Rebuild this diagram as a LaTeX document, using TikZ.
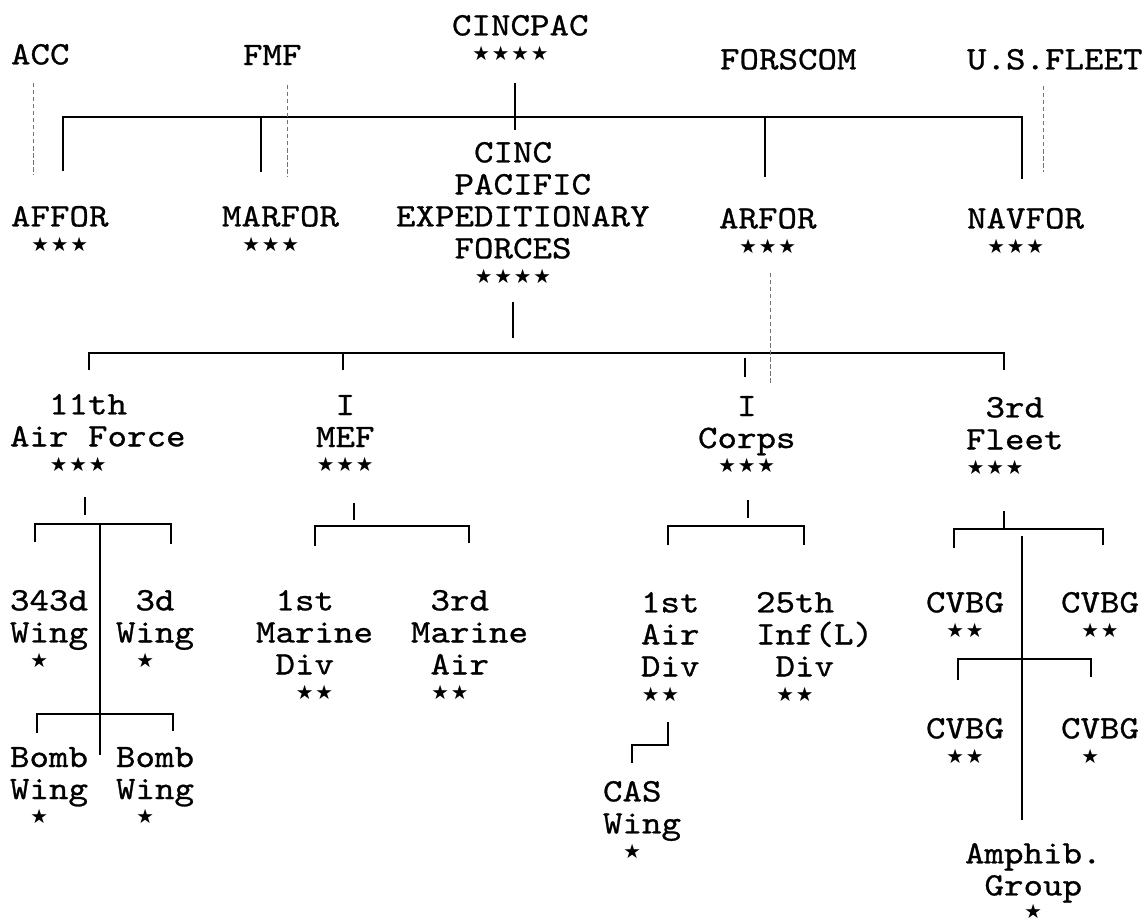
\documentclass[tikz,border=0pt]{standalone}
\usepackage{fontspec}
\newfontfamily\typefont[Extension=.otf, FakeStretch=1.134, FakeBold=0.8]{lmmono10-regular}
\newfontfamily\starfont{DejaVu Sans}
\usetikzlibrary{positioning,calc}

\newcommand{\lblfont}{\typefont\fontsize{23.3}{22.75}\selectfont}
\newcommand{\pad}[1]{\hspace*{#1\fontcharwd\font`x}}
\newcommand{\stars}[1]{\foreach \i in {1,...,#1}{\makebox[\fontcharwd\font`x]{\starfont\fontsize{14}{14}\selectfont ★}}}

\begin{document}
\begin{tikzpicture}[x=0.025cm, y=-0.025cm,
    lbl/.style={anchor=north west, inner sep=0pt, outer sep=0pt, align=left, font=\lblfont},
    cmd/.style={line width=2pt},
    liaison/.style={densely dashed, line width=0.6pt, black!55}]
    \useasboundingbox (0,0) rectangle (1145,922);

    % top level
    \node [lbl] (acc) at (11,44) {ACC};
    \node [lbl] (fmf) at (243,45) {FMF};
    \node [lbl] (cincpac) at (452,15) {CINCPAC\\[-5pt]\pad{1}\stars{4}};
    \node [lbl] (forscom) at (720,49) {FORSCOM};
    \node [lbl] (usfleet) at (967,49) {U.S.FLEET};

    % component commands
    \node [lbl] (affor) at (11,206) {AFFOR\\[-5pt]\pad{1}\stars{3}};
    \node [lbl] (marfor) at (222,206) {MARFOR\\[-5pt]\pad{1}\stars{3}};
    \node [lbl] (cincpef) at (396,142) {\pad{4}CINC\\\pad{3}PACIFIC\\EXPEDITIONARY\\\pad{3}FORCES\\[-5pt]\pad{4}\stars{4}};
    \node [lbl] (arfor) at (719,208) {ARFOR\\[-5pt]\pad{1}\stars{3}};
    \node [lbl] (navfor) at (967,208) {NAVFOR\\[-5pt]\pad{1}\stars{3}};

    % numbered forces
    \node [lbl] (af11) at (10,394) {\pad{2}11th\\Air Force\\[-5pt]\pad{2}\stars{3}};
    \node [lbl] (mef) at (316,395) {\pad{1}I\\MEF\\[-5pt]\stars{3}};
    \node [lbl] (corps) at (698,396) {\pad{2}I\\Corps\\[-5pt]\pad{1}\stars{3}};
    \node [lbl] (fleet) at (966,397) {\pad{1}3rd\\Fleet\\[-5pt]\stars{3}};

    % wings, divisions, groups
    \node [lbl] (wing343) at (10,590) {343d\\Wing\\[-5pt]\pad{1}\stars{1}};
    \node [lbl] (wing3) at (116,590) {\pad{1}3d\\Wing\\[-5pt]\pad{1}\stars{1}};
    \node [lbl] (bomb1) at (10,747) {Bomb\\Wing\\[-5pt]\pad{1}\stars{1}};
    \node [lbl] (bomb2) at (116,747) {Bomb\\Wing\\[-5pt]\pad{1}\stars{1}};
    \node [lbl] (mardiv) at (256,590) {\pad{1}1st\\Marine\\\pad{1}Div\\[-5pt]\pad{2}\stars{2}};
    \node [lbl] (marair) at (411,590) {\pad{1}3rd\\Marine\\\pad{1}Air\\[-5pt]\pad{1}\stars{2}};
    \node [lbl] (airdiv) at (641,592) {1st\\Air\\Div\\[-5pt]\stars{2}};
    \node [lbl] (infdiv) at (756,592) {25th\\Inf(L)\\\pad{1}Div\\[-5pt]\pad{1}\stars{2}};
    \node [lbl] (caswing) at (603,781) {CAS\\Wing\\[-5pt]\pad{1}\stars{1}};
    \node [lbl] (cvbg1) at (926,592) {CVBG\\[-5pt]\pad{1}\stars{2}};
    \node [lbl] (cvbg2) at (1061,592) {CVBG\\[-5pt]\pad{1}\stars{2}};
    \node [lbl] (cvbg3) at (926,718) {CVBG\\[-5pt]\pad{1}\stars{2}};
    \node [lbl] (cvbg4) at (1061,718) {CVBG\\[-5pt]\pad{1}\stars{1}};
    \node [lbl] (amphib) at (965,843) {Amphib.\\\pad{1}Group\\[-6pt]\pad{3}\stars{1}};

    % connector ends
    \coordinate (busA) at (0,117);
    \coordinate (busB) at (0,353);
    \coordinate (cincpacOut) at (515,83);
    \coordinate (cincpefIn) at (515,130);
    \coordinate (afforIn) at (63,171);
    \coordinate (marforIn) at (261,172);
    \coordinate (arforIn) at (765,177);
    \coordinate (navforIn) at (1022,179);
    \coordinate (accOut) at (33,83);
    \coordinate (afforEnd) at (33,175);
    \coordinate (fmfOut) at (287,85);
    \coordinate (marforEnd) at (287,177);
    \coordinate (usfleetOut) at (1043,86);
    \coordinate (navforEnd) at (1043,172);
    \coordinate (arforOut) at (770,273);
    \coordinate (corpsEnd) at (770,385);
    \coordinate (cincpefOut) at (513,302);
    \coordinate (af11In) at (89,370);
    \coordinate (mefIn) at (343,370);
    \coordinate (corpsIn) at (745,377);
    \coordinate (fleetIn) at (1004,370);

    % command lines
    \draw [cmd] (cincpacOut) -- (cincpefIn);
    \draw [cmd] (afforIn) -- (afforIn |- busA) -- (navforIn |- busA) -- (navforIn);
    \draw [cmd] (marforIn) -- (marforIn |- busA);
    \draw [cmd] (arforIn) -- (arforIn |- busA);
    \draw [cmd] (cincpefOut) -- ++(0,36);
    \draw [cmd] (af11In) -- (af11In |- busB) -- (fleetIn |- busB) -- (fleetIn);
    \draw [cmd] (mefIn) -- (mefIn |- busB);
    \draw [cmd] (corpsIn) -- ++(0,-19);

    % coordination lines
    \draw [liaison] (accOut) -- (afforEnd);
    \draw [liaison] (fmfOut) -- (marforEnd);
    \draw [liaison] (usfleetOut) -- (navforEnd);
    \draw [liaison] (arforOut) -- (corpsEnd);

    % 11th Air Force
    \coordinate (af11Out) at (85,497);
    \coordinate (wing343In) at (35,542);
    \coordinate (wing3In) at (171,544);
    \coordinate (af11Trunk) at (100,524);
    \coordinate (bombTrunk) at (100,755);
    \coordinate (bomb1In) at (37,733);
    \coordinate (bomb2In) at (173,731);
    \draw [cmd] (af11Out) -- ++(0,18);
    \draw [cmd] (wing343In) -- ++(0,-18) -| (wing3In);
    \draw [cmd] (af11Trunk) -- (bombTrunk);
    \draw [cmd] (bomb1In) -- ++(0,-19) -| (bomb2In);

    % I MEF
    \coordinate (mefOut) at (354,503);
    \coordinate (mardivIn) at (315,546);
    \coordinate (marairIn) at (469,543);
    \draw [cmd] (mefOut) -- ++(0,17);
    \draw [cmd] (mardivIn) -- ++(0,-20) -| (marairIn);

    % I Corps
    \coordinate (corpsOut) at (748,500);
    \coordinate (airdivIn) at (668,545);
    \coordinate (infdivIn) at (804,545);
    \coordinate (airdivOut) at (668,722);
    \coordinate (caswingIn) at (632,763);
    \draw [cmd] (corpsOut) -- ++(0,18);
    \draw [cmd] (airdivIn) -- ++(0,-19) -| (infdivIn);
    \draw [cmd] (airdivOut) -- ++(0,23) -| (caswingIn);

    % 3rd Fleet
    \coordinate (fleetOut) at (1004,511);
    \coordinate (cvbg1In) at (954,548);
    \coordinate (cvbg2In) at (1103,545);
    \coordinate (fleetTrunk) at (1022,536);
    \coordinate (amphibIn) at (1022,820);
    \coordinate (cvbg3In) at (958,680);
    \coordinate (cvbg4In) at (1091,677);
    \draw [cmd] (fleetOut) -- ++(0,18);
    \draw [cmd] (cvbg1In) -- ++(0,-19) -| (cvbg2In);
    \draw [cmd] (fleetTrunk) -- (amphibIn);
    \draw [cmd] (cvbg3In) -- ++(0,-21) -| (cvbg4In);
\end{tikzpicture}
\end{document}
